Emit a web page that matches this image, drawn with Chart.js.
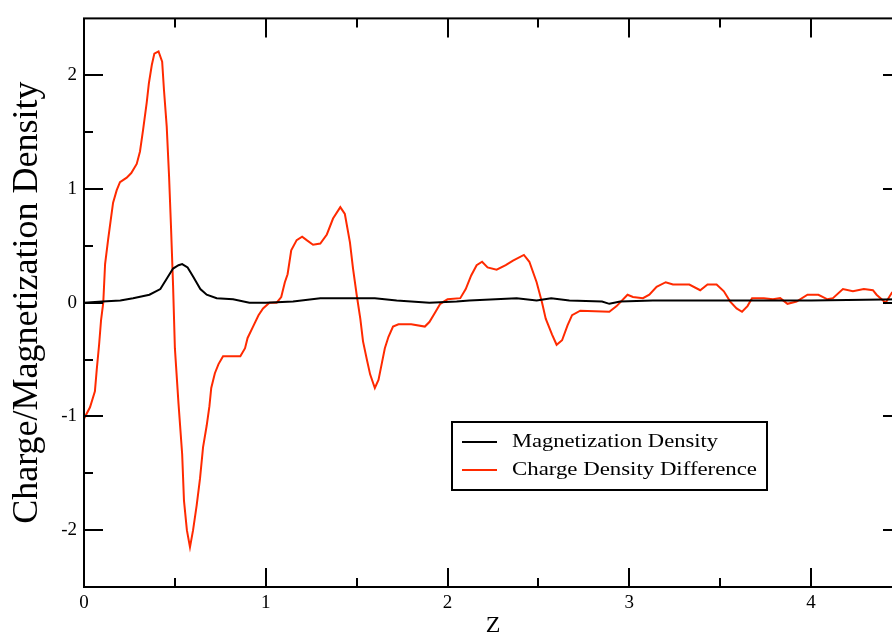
<!DOCTYPE html>
<html><head><meta charset="utf-8">
<script src="https://cdn.jsdelivr.net/npm/chart.js@4/dist/chart.umd.min.js"></script>
<style>html,body{margin:0;padding:0;background:#fff;overflow:hidden;width:892px;height:635px}
#wrap{width:910px;height:635px}</style></head><body><div id="wrap"><canvas id="c" width="910" height="635"></canvas></div>
<script>
// Charge Density Difference (red)
const zCharge = [0, 0.033, 0.06, 0.07, 0.083, 0.094, 0.106, 0.116, 0.133, 0.149, 0.16, 0.18, 0.198, 0.235, 0.26, 0.29, 0.308, 0.325, 0.345, 0.357, 0.373, 0.387, 0.41, 0.43, 0.44, 0.455, 0.468, 0.479, 0.49, 0.50, 0.52, 0.54, 0.55, 0.566, 0.583, 0.60, 0.62, 0.638, 0.655, 0.675, 0.69, 0.70, 0.72, 0.74, 0.765, 0.86, 0.886, 0.90, 0.93, 0.96, 0.985, 1.02, 1.06, 1.085, 1.105, 1.12, 1.14, 1.17, 1.20, 1.225, 1.26, 1.30, 1.336, 1.37, 1.41, 1.435, 1.463, 1.48, 1.50, 1.52, 1.535, 1.556, 1.574, 1.60, 1.62, 1.64, 1.655, 1.675, 1.70, 1.73, 1.80, 1.875, 1.90, 1.93, 1.96, 2.0, 2.07, 2.10, 2.13, 2.16, 2.19, 2.22, 2.27, 2.32, 2.36, 2.42, 2.45, 2.49, 2.52, 2.54, 2.575, 2.60, 2.63, 2.66, 2.685, 2.73, 2.89, 2.93, 2.99, 3.02, 3.075, 3.11, 3.15, 3.20, 3.24, 3.33, 3.39, 3.43, 3.48, 3.52, 3.555, 3.59, 3.62, 3.65, 3.675, 3.74, 3.79, 3.83, 3.87, 3.92, 3.98, 4.04, 4.09, 4.12, 4.175, 4.23, 4.29, 4.34, 4.36, 4.41, 4.445, 4.5];
const charge = [-1.02, -0.92, -0.78, -0.59, -0.37, -0.15, 0.0, 0.34, 0.56, 0.75, 0.88, 0.99, 1.06, 1.10, 1.14, 1.22, 1.33, 1.52, 1.76, 1.93, 2.09, 2.19, 2.21, 2.12, 1.87, 1.55, 1.11, 0.65, 0.15, -0.40, -0.89, -1.33, -1.74, -2.0, -2.15, -2.0, -1.78, -1.55, -1.27, -1.08, -0.91, -0.75, -0.62, -0.54, -0.47, -0.47, -0.40, -0.31, -0.21, -0.11, -0.05, 0.0, 0.0, 0.05, 0.18, 0.25, 0.46, 0.55, 0.58, 0.55, 0.51, 0.52, 0.60, 0.74, 0.84, 0.78, 0.53, 0.30, 0.07, -0.14, -0.34, -0.50, -0.63, -0.75, -0.68, -0.52, -0.40, -0.30, -0.21, -0.19, -0.19, -0.21, -0.17, -0.09, -0.01, 0.03, 0.04, 0.12, 0.24, 0.33, 0.36, 0.31, 0.29, 0.33, 0.37, 0.42, 0.36, 0.18, 0.0, -0.14, -0.28, -0.37, -0.33, -0.20, -0.11, -0.07, -0.08, -0.03, 0.07, 0.05, 0.04, 0.07, 0.14, 0.18, 0.16, 0.16, 0.11, 0.16, 0.16, 0.10, 0.01, -0.05, -0.08, -0.03, 0.04, 0.04, 0.03, 0.04, -0.01, 0.01, 0.07, 0.07, 0.03, 0.04, 0.12, 0.10, 0.12, 0.11, 0.07, 0.0, 0.09, 0.12];
// Magnetization Density (black)
const zMag = [0, 0.1, 0.2, 0.27, 0.36, 0.42, 0.455, 0.49, 0.52, 0.54, 0.57, 0.60, 0.64, 0.675, 0.73, 0.82, 0.91, 1.0, 1.15, 1.3, 1.6, 1.72, 1.9, 2.05, 2.12, 2.38, 2.49, 2.57, 2.67, 2.85, 2.89, 2.95, 3.13, 3.5, 4.0, 4.5];
const mag = [0.0, 0.01, 0.02, 0.04, 0.07, 0.12, 0.21, 0.30, 0.33, 0.34, 0.31, 0.23, 0.12, 0.07, 0.04, 0.03, 0.0, 0.0, 0.01, 0.04, 0.04, 0.02, 0.0, 0.01, 0.02, 0.04, 0.02, 0.04, 0.02, 0.01, -0.01, 0.01, 0.02, 0.02, 0.02, 0.03];
const xTicks = [0, 1, 2, 3, 4];
const xMinor = [0.5, 1.5, 2.5, 3.5, 4.5];
const yTicks = [-2, -1, 0, 1, 2];
const yMinor = [-1.5, -0.5, 0.5, 1.5];
const seriesNames = ['Magnetization Density', 'Charge Density Difference'];
const seriesColors = ['#000000', '#ff2a00'];

const serif = "'Liberation Serif', 'DejaVu Serif', serif";

const framePlugin = {
  id: 'frame',
  afterDatasetsDraw(chart) {
    const {ctx, chartArea: a, scales: {x, y}} = chart;
    ctx.save();
    ctx.strokeStyle = '#000';
    ctx.lineWidth = 2;
    ctx.strokeRect(a.left, a.top, a.right - a.left, a.bottom - a.top);
    ctx.beginPath();
    const xt = (v, len) => { const p = Math.round(x.getPixelForValue(v)); ctx.moveTo(p, a.bottom); ctx.lineTo(p, a.bottom - len); ctx.moveTo(p, a.top); ctx.lineTo(p, a.top + len); };
    const yt = (v, len) => { const p = Math.round(y.getPixelForValue(v)); ctx.moveTo(a.left, p); ctx.lineTo(a.left + len, p); ctx.moveTo(a.right, p); ctx.lineTo(a.right - len, p); };
    xTicks.forEach(v => xt(v, 19)); xMinor.forEach(v => xt(v, 9));
    yTicks.forEach(v => yt(v, 19)); yMinor.forEach(v => yt(v, 9));
    ctx.stroke();
    ctx.restore();
  },
  afterDraw(chart) {
    const ctx = chart.ctx;
    ctx.save();
    ctx.fillStyle = '#fff';
    ctx.fillRect(452, 422, 315, 68);
    ctx.strokeStyle = '#000'; ctx.lineWidth = 2;
    ctx.strokeRect(452, 422, 315, 68);
    const rows = [{ly: 442, ty: 447, w: 206}, {ly: 470, ty: 475, w: 245}];
    ctx.font = '19px ' + serif;
    ctx.textBaseline = 'alphabetic';
    rows.forEach((r, i) => {
      ctx.strokeStyle = seriesColors[i]; ctx.lineWidth = 2;
      ctx.beginPath(); ctx.moveTo(462, r.ly); ctx.lineTo(497, r.ly); ctx.stroke();
      const m = ctx.measureText(seriesNames[i]).width;
      ctx.save(); ctx.translate(512, r.ty); ctx.scale(r.w / m, 1);
      ctx.fillStyle = '#000'; ctx.fillText(seriesNames[i], 0, 0);
      ctx.restore();
    });
    ctx.restore();
  }
};

new Chart(document.getElementById('c'), {
  type: 'line',
  data: {
    datasets: [
      {label: seriesNames[0], data: zMag.map((v, i) => ({x: v, y: mag[i]})), borderColor: seriesColors[0], borderWidth: 2, pointRadius: 0, tension: 0, fill: false},
      {label: seriesNames[1], data: zCharge.map((v, i) => ({x: v, y: charge[i]})), borderColor: seriesColors[1], borderWidth: 2, pointRadius: 0, tension: 0, fill: false}
    ]
  },
  options: {
    responsive: false, animation: false, devicePixelRatio: 1,
    layout: {padding: {top: 13, right: 8, left: 0, bottom: 0}},
    plugins: {legend: {display: false}, tooltip: {enabled: false}},
    scales: {
      x: {
        type: 'linear', min: 0, max: 4.5,
        afterBuildTicks: s => { s.ticks = xTicks.map(v => ({value: v})); },
        afterFit: s => { s.height = 48; },
        grid: {display: false, drawTicks: false, tickLength: 0},
        border: {display: false},
        ticks: {color: '#000', font: {family: serif, size: 19}, padding: 5, maxRotation: 0, autoSkip: false},
        title: {display: true, text: 'Z', color: '#000', font: {family: serif, size: 24, lineHeight: 0.5}, padding: {top: 0, bottom: 3}}
      },
      y: {
        type: 'linear', min: -2.5, max: 2.5,
        afterBuildTicks: s => { s.ticks = yTicks.map(v => ({value: v})); },
        afterFit: s => { s.width = 84; },
        grid: {display: false, drawTicks: false, tickLength: 0},
        border: {display: false},
        ticks: {color: '#000', font: {family: serif, size: 19}, padding: 7},
        title: {display: true, text: 'Charge/Magnetization Density', color: '#000', font: {family: serif, size: 36}, padding: {top: 6, bottom: 0}}
      }
    }
  },
  plugins: [framePlugin]
});
</script></body></html>
